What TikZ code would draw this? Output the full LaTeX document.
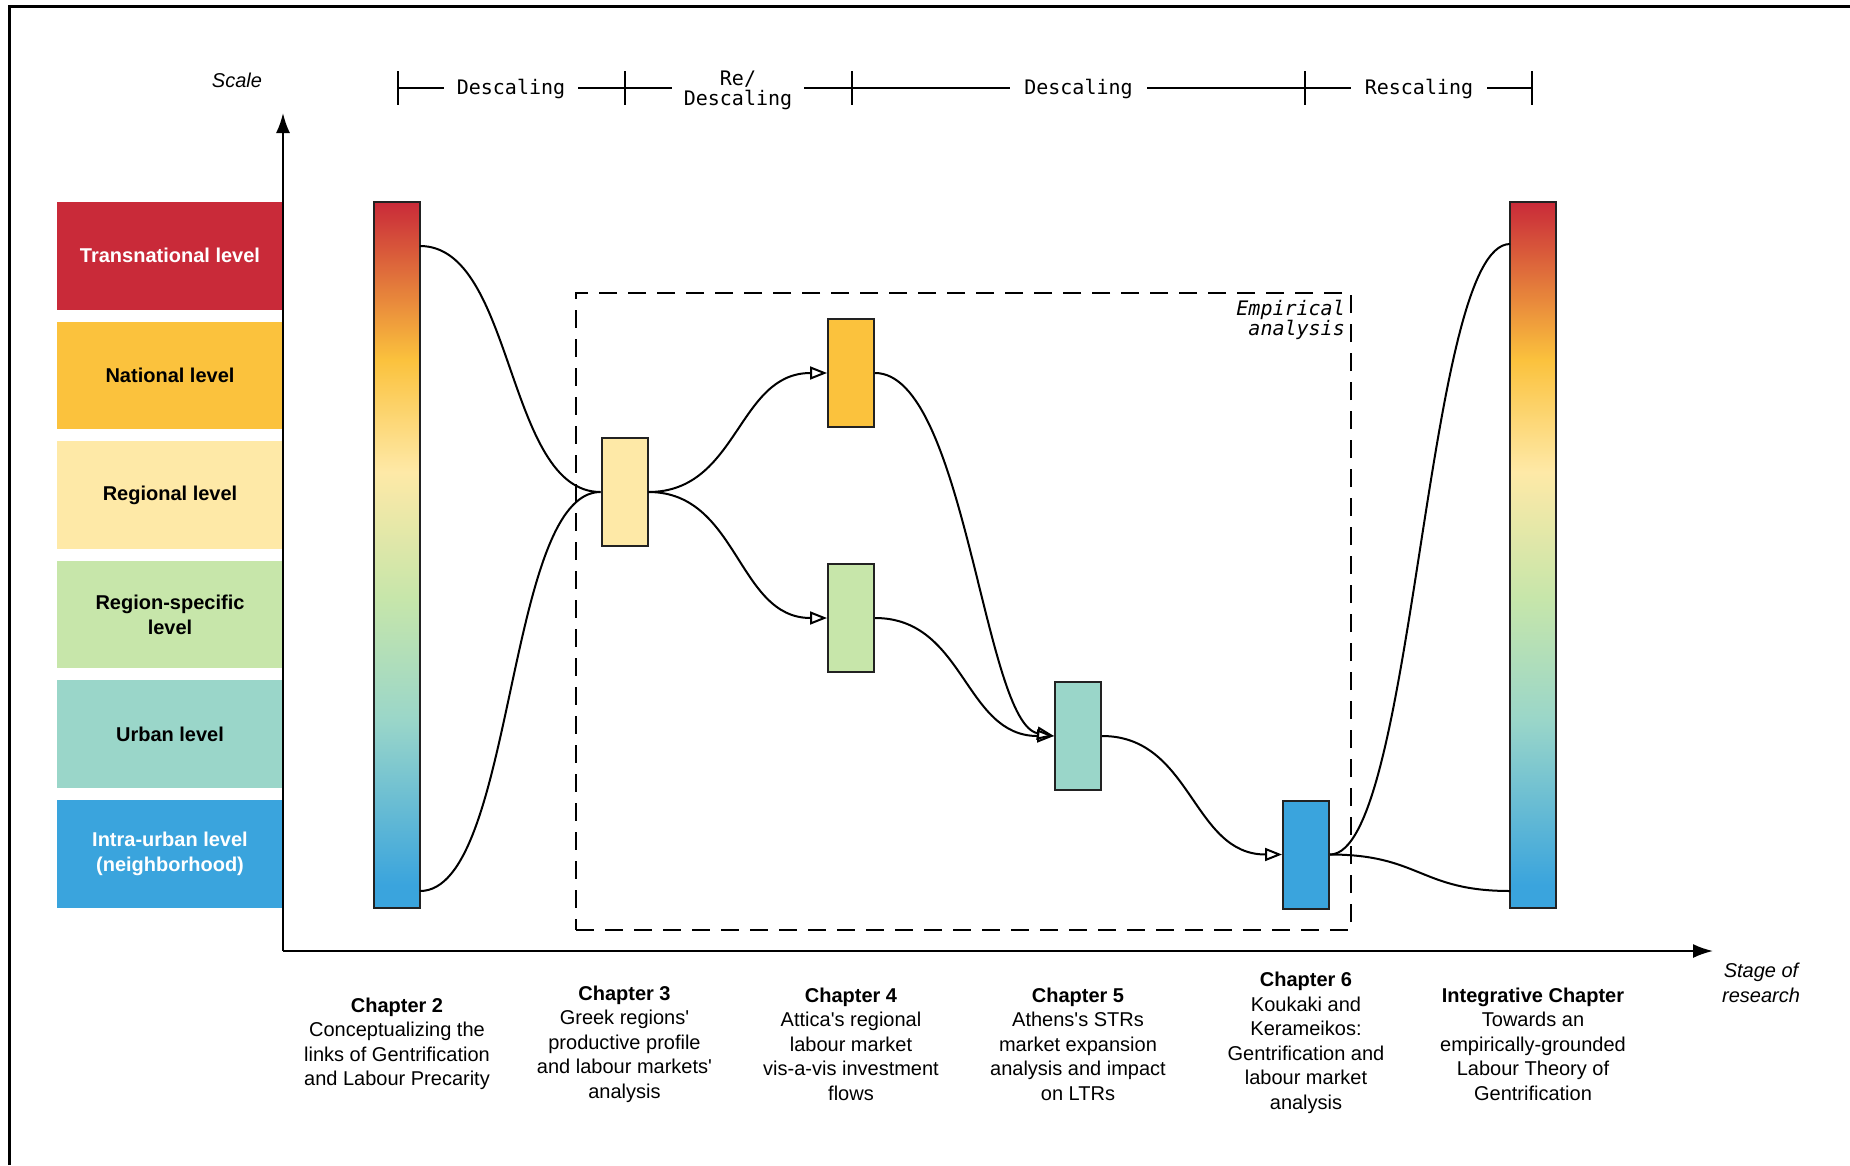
\documentclass[tikz,border=0pt]{standalone}
\usepackage{fontspec}
\setmainfont{Liberation Sans}
\newfontfamily\monof{DejaVu Sans Mono}
\usetikzlibrary{arrows.meta}
\definecolor{cTrans}{HTML}{C92A39}
\definecolor{cNational}{HTML}{FBC23D}
\definecolor{cRegional}{HTML}{FEE9A7}
\definecolor{cRegSpec}{HTML}{C7E6AA}
\definecolor{cUrban}{HTML}{9AD6C9}
\definecolor{cIntra}{HTML}{3AA4DD}
\definecolor{edge}{HTML}{222222}
\pgfdeclareverticalshading{scalebarshade}{100bp}{color(0bp)=(cIntra); color(26.63bp)=(cIntra); color(38.31bp)=(cUrban); color(47.03bp)=(cRegSpec); color(55.88bp)=(cRegional); color(63.81bp)=(cNational); color(75bp)=(cTrans); color(100bp)=(cTrans)}
\begin{document}
\begin{tikzpicture}[x=1pt,y=-1pt,
  every node/.style={font=\fontsize{20}{24.5}\selectfont},
  lvl/.style={minimum width=226pt, minimum height=107.6pt, inner sep=0pt, align=center, font=\fontsize{20}{24.5}\selectfont\bfseries},
  chbox/.style={draw=edge, line width=2pt, minimum width=46pt, minimum height=108pt, inner sep=0pt},
  gradbar/.style={draw=edge, line width=2pt, shade, shading=scalebarshade, minimum width=46pt, minimum height=706pt, inner sep=0pt},
  flow/.style={line width=2pt},
  flowarr/.style={line width=2pt, -{Triangle[open,length=17pt,width=13pt]}},
  axisline/.style={line width=2pt, -{Latex[length=20pt,width=14pt]}},
  mono/.style={font=\fontsize{20}{20}\selectfont\monof},
  chap/.style={align=center, font=\fontsize{20}{24.5}\selectfont},
  bracket/.style={line width=2pt},
]
\useasboundingbox (0,0) rectangle (1850,1165);
\fill[white] (0,0) rectangle (1850,1165);
% frame
\draw[line width=3pt] (9,1165) -- (9,6.5) -- (1850,6.5);

% level boxes
\node[lvl, fill=cTrans, text=white] (l1) at (170,255.8) {Transnational level};
\node[lvl, fill=cNational] (l2) at (170,375.4) {National level};
\node[lvl, fill=cRegional] (l3) at (170,495.0) {Regional level};
\node[lvl, fill=cRegSpec] (l4) at (170,614.6) {Region-specific\\level};
\node[lvl, fill=cUrban] (l5) at (170,734.2) {Urban level};
\node[lvl, fill=cIntra, text=white] (l6) at (170,853.8) {Intra-urban level\\(neighborhood)};

% axes
\coordinate (origin) at (283,951);
\coordinate (ytip) at (283,113);
\coordinate (xtip) at (1713,951);
\draw[axisline] (origin) -- (ytip);
\draw[axisline] (origin) -- (xtip);
\node (scale) at (237,80) {\itshape Scale};
\node[align=center] (stage) at (1761,983) {\itshape Stage of\\\itshape research};

% top bracket
\coordinate (t1) at (398,88);
\coordinate (t2) at (625,88);
\coordinate (t3) at (852,88);
\coordinate (t4) at (1305,88);
\coordinate (t5) at (1532,88);
\draw[bracket] (t1) -- (t5);
\foreach \t in {t1,t2,t3,t4,t5}
  \draw[bracket] ([yshift=17pt]\t) -- ([yshift=-17pt]\t);
\node[mono, fill=white, inner xsep=13pt, inner ysep=1pt] (d1) at (511,89) {Descaling};
\node[mono, fill=white, inner xsep=12pt, inner ysep=1pt, align=center] (d2) at (738,90) {Re/\\Descaling};
\node[mono, fill=white, inner xsep=14pt, inner ysep=1pt] (d3) at (1078.5,89) {Descaling};
\node[mono, fill=white, inner xsep=14pt, inner ysep=1pt] (d4) at (1419,89) {Rescaling};

% empirical analysis frame
\node[draw, line width=2.5pt, dash pattern=on 18pt off 11pt, minimum width=775pt, minimum height=637pt, inner sep=0pt] (emp) at (963.5,611.5) {};
\node[mono, anchor=east, align=right, inner sep=0pt] (emplabel) at (1345,320) {\itshape Empirical\\\itshape analysis};

% gradient bars
\node[gradbar] (bar2) at (397,555) {};
\node[gradbar] (barI) at (1533,555) {};
\coordinate (b2t) at (420,246);
\coordinate (b2b) at (420,891);
\coordinate (bIt) at (1510,244);
\coordinate (bIb) at (1510,891);

% chapter boxes
\node[chbox, fill=cRegional] (ch3) at (624.5,492) {};
\node[chbox, fill=cNational] (ch4a) at (851,373) {};
\node[chbox, fill=cRegSpec] (ch4b) at (851,618) {};
\node[chbox, fill=cUrban] (ch5) at (1078,736) {};
\node[chbox, fill=cIntra] (ch6) at (1306,854.5) {};

% flows
\draw[flow] (b2t) .. controls +(95,0) and +(-95,0) .. (ch3.west);
\draw[flow] (b2b) .. controls +(95,0) and +(-95,0) .. (ch3.west);
\draw[flowarr] (ch3.east) .. controls +(90,0) and +(-90,0) .. (ch4a.west);
\draw[flowarr] (ch3.east) .. controls +(90,0) and +(-90,0) .. (ch4b.west);
\draw[flowarr] (ch4a.east) .. controls +(90,0) and +(-70,-12) .. (ch5.west);
\draw[flowarr] (ch4b.east) .. controls +(90,0) and +(-90,0) .. (ch5.west);
\draw[flowarr] (ch5.east) .. controls +(90,0) and +(-90,0) .. (ch6.west);
\draw[flow] (ch6.east) .. controls +(85,0) and +(-85,0) .. (bIt);
\draw[flow] (ch6.east) .. controls +(90,0) and +(-90,0) .. (bIb);

% chapter labels
\node[chap] (lab2) at (397,1044) {\textbf{Chapter 2}\\Conceptualizing the\\links of Gentrification\\and Labour Precarity};
\node[chap] (lab3) at (624.5,1044) {\textbf{Chapter 3}\\Greek regions\textquotesingle\\productive profile\\and labour markets\textquotesingle\\analysis};
\node[chap] (lab4) at (851,1044) {\textbf{Chapter 4}\\Attica\textquotesingle s regional\\labour market\\vis-a-vis investment\\flows};
\node[chap] (lab5) at (1078,1044) {\textbf{Chapter 5}\\Athens\textquotesingle s STRs\\market expansion\\analysis and impact\\on LTRs};
\node[chap] (lab6) at (1306,1043) {\textbf{Chapter 6}\\Koukaki and\\Kerameikos:\\Gentrification and\\labour market\\analysis};
\node[chap] (labI) at (1533,1044) {\textbf{Integrative Chapter}\\Towards an\\empirically-grounded\\Labour Theory of\\Gentrification};
\end{tikzpicture}
\end{document}
